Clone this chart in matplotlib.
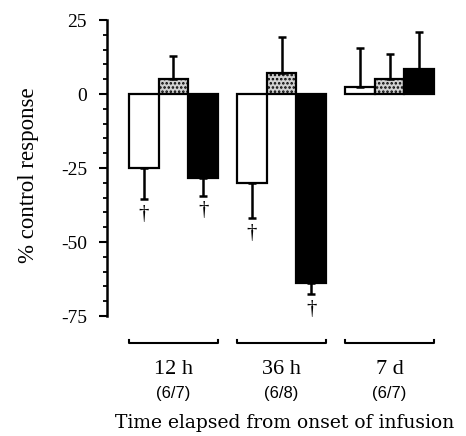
import matplotlib.pyplot as plt
import numpy as np

plt.rcParams['hatch.linewidth'] = 1.2

groups = ["12 h", "36 h", "7 d"]
n_labels = ["(6/7)", "(6/8)", "(6/7)"]

white = [-25, -30, 2.5]
white_err = [10.5, 12, 13]
grey = [5, 7.2, 5.1]
grey_err = [7.7, 12.2, 8.4]
black = [-28.4, -64, 8.4]
black_err = [6, 3.6, 12.6]

# significance markers (dagger) per series
white_sig = [True, True, False]
grey_sig = [False, False, False]
black_sig = [True, True, False]

yticks = [25, 0, -25, -50, -75]

fig = plt.figure(figsize=(4.66, 4.36), dpi=100)
ax = fig.add_axes([106.5 / 466, 1 - 316 / 436, (462 - 106.5) / 466, 296 / 436])

x = np.arange(len(groups))
w = 0.274

series = [
    (white, white_err, white_sig, dict(facecolor="white", edgecolor="black")),
    (grey, grey_err, grey_sig, dict(facecolor="0.82", edgecolor="black", hatch="....")),
    (black, black_err, black_sig, dict(facecolor="black", edgecolor="black")),
]

for i, (vals, errs, sig, style) in enumerate(series):
    xs = x + (i - 1) * w
    vals = np.array(vals)
    errs = np.array(errs)
    ax.bar(xs, vals, w, linewidth=1.6, zorder=2, **style)
    lower = np.where(vals < 0, errs, 0)
    upper = np.where(vals >= 0, errs, 0)
    ax.errorbar(xs, vals, yerr=[lower, upper], fmt="none", ecolor="black",
                elinewidth=1.8, capsize=3, capthick=1.8, zorder=3)
    for xi, v, e, s in zip(xs, vals, errs, sig):
        if s:
            ax.annotate("\u2020", (xi, v - e), xytext=(0, -4), textcoords="offset points",
                        ha="center", va="top", fontsize=15, family="Liberation Serif")

ax.set_ylim(-75, 25)
ax.set_xlim(-0.62, 2.67)
ax.set_yticks(yticks)
ax.set_yticklabels([str(t) for t in yticks], family="Liberation Serif", fontsize=14)
ax.set_yticks(np.arange(-75, 26, 5), minor=True)
ax.tick_params(axis="y", which="major", length=6, width=1.5, pad=8)
ax.tick_params(axis="y", which="minor", length=3, width=1.3)
ax.set_xticks([])
for s in ["top", "right", "bottom"]:
    ax.spines[s].set_visible(False)
ax.spines["left"].set_linewidth(1.8)

# group brackets and labels below the plot
trans = ax.get_xaxis_transform()
for xi, g, n in zip(x, groups, n_labels):
    x0, x1 = xi - 1.5 * w, xi + 1.5 * w
    ax.plot([x0, x0, x1, x1], [-0.081, -0.092, -0.092, -0.081], color="black",
            lw=1.5, transform=trans, clip_on=False)
    ax.text(xi, -0.196, g, transform=trans, ha="center", va="baseline",
            family="Liberation Serif", fontsize=16)
    ax.text(xi, -0.262, n, transform=trans, ha="center", va="center",
            family="Liberation Sans", fontsize=12)

ax.text(0.5, -0.378, "Time elapsed from onset of infusion", transform=ax.transAxes,
        ha="center", va="baseline", family="DejaVu Serif", fontsize=13.5)
fig.text(29 / 466, 1 - 175 / 436, "% control response", rotation=90,
         ha="center", va="center", family="Liberation Serif", fontsize=16.5)

fig.savefig("out.png", dpi=100)
